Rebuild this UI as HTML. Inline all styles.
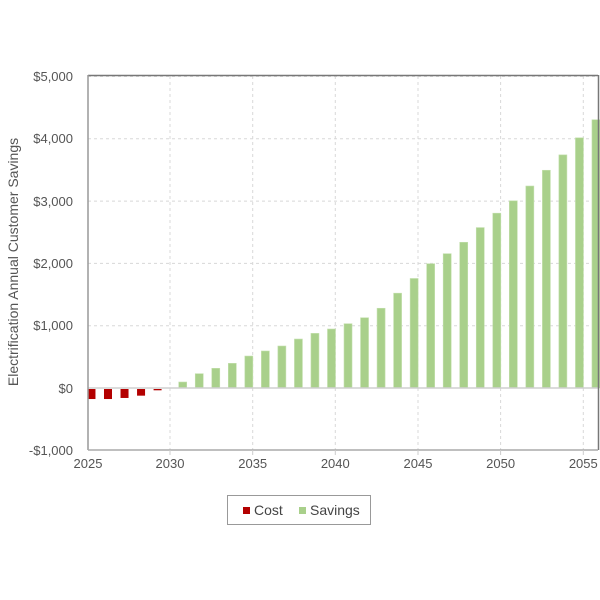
<!DOCTYPE html>
<html><head><meta charset="utf-8"><style>html,body{margin:0;padding:0;background:#fff;}svg{display:block;}</style></head>
<body>
<svg width="600" height="600" viewBox="0 0 600 600" xmlns="http://www.w3.org/2000/svg" font-family="Liberation Sans, sans-serif">
<rect width="600" height="600" fill="#fff"/>
<g stroke="#d8d8d8" stroke-width="1" stroke-dasharray="3,3" fill="none">
<line x1="88" y1="76.5" x2="598" y2="76.5"/>
<line x1="88" y1="138.8" x2="598" y2="138.8"/>
<line x1="88" y1="201.1" x2="598" y2="201.1"/>
<line x1="88" y1="263.4" x2="598" y2="263.4"/>
<line x1="88" y1="325.7" x2="598" y2="325.7"/>
<line x1="170" y1="76" x2="170" y2="450"/>
<line x1="252.7" y1="76" x2="252.7" y2="450"/>
<line x1="335.3" y1="76" x2="335.3" y2="450"/>
<line x1="418" y1="76" x2="418" y2="450"/>
<line x1="500.6" y1="76" x2="500.6" y2="450"/>
<line x1="583.3" y1="76" x2="583.3" y2="450"/>
</g>
<g id="bars"></g>
<line x1="88" y1="388" x2="598" y2="388" stroke="#cfcfcf" stroke-width="1.5"/>
<line x1="88" y1="75.5" x2="598" y2="75.5" stroke="#777" stroke-width="1.5"/>
<line x1="598.5" y1="75" x2="598.5" y2="450" stroke="#777" stroke-width="1.5"/>
<line x1="88" y1="75" x2="88" y2="450" stroke="#999" stroke-width="1.5"/>
<line x1="88" y1="450" x2="598" y2="450" stroke="#aaa" stroke-width="1.5"/>
<g stroke="#ccc" stroke-width="1">
<line x1="170" y1="450" x2="170" y2="455"/><line x1="252.7" y1="450" x2="252.7" y2="455"/><line x1="335.3" y1="450" x2="335.3" y2="455"/><line x1="418" y1="450" x2="418" y2="455"/><line x1="500.6" y1="450" x2="500.6" y2="455"/><line x1="583.3" y1="450" x2="583.3" y2="455"/>
</g>
<g font-size="13" fill="#555" text-anchor="end">
<text x="73" y="81">$5,000</text>
<text x="73" y="143">$4,000</text>
<text x="73" y="206">$3,000</text>
<text x="73" y="268">$2,000</text>
<text x="73" y="330">$1,000</text>
<text x="73" y="393">$0</text>
<text x="73" y="455">-$1,000</text>
</g>
<g font-size="13" fill="#555" text-anchor="middle">
<text x="88" y="468">2025</text><text x="170" y="468">2030</text><text x="252.7" y="468">2035</text><text x="335.3" y="468">2040</text><text x="418" y="468">2045</text><text x="500.6" y="468">2050</text><text x="583.3" y="468">2055</text>
</g>
<text transform="translate(18,262) rotate(-90)" font-size="14" fill="#555" text-anchor="middle">Electrification Annual Customer Savings</text>
<rect x="227.5" y="495.5" width="143" height="29" fill="#fff" stroke="#999" stroke-width="1"/>
<rect x="243" y="507" width="7" height="7" fill="#b30000"/>
<text x="254" y="515" font-size="14" fill="#444">Cost</text>
<rect x="299" y="507" width="7" height="7" fill="#a9d08b"/>
<text x="310" y="515" font-size="14" fill="#444">Savings</text>
</svg>
<script>
var g=document.getElementById('bars');
var ns='http://www.w3.org/2000/svg';
function x(k){return 87.5+16.53*k;}
var red=[177,177,160,123,37];
red.forEach(function(v,i){var r=document.createElementNS(ns,'rect');var c=x(i+0.24);r.setAttribute('x',c-4);r.setAttribute('width',8);r.setAttribute('y',389);r.setAttribute('height',v*0.0623-1);r.setAttribute('fill','#b30000');g.appendChild(r);});
var green=[96,230,316,396,513,594,674,786,877,947,1032,1128,1280,1522,1758,1995,2156,2339,2575,2806,3005,3242,3495,3742,4016,4306];
green.forEach(function(v,i){var r=document.createElementNS(ns,'rect');var c=x(i+5+0.76);var h=v*0.0623;r.setAttribute('x',c-4);r.setAttribute('width',8);r.setAttribute('y',388-h);r.setAttribute('height',h);r.setAttribute('fill','#a9d08b');r.setAttribute('stroke','#c4e0ae');r.setAttribute('stroke-width','0.6');g.appendChild(r);});
</script>
</body></html>
